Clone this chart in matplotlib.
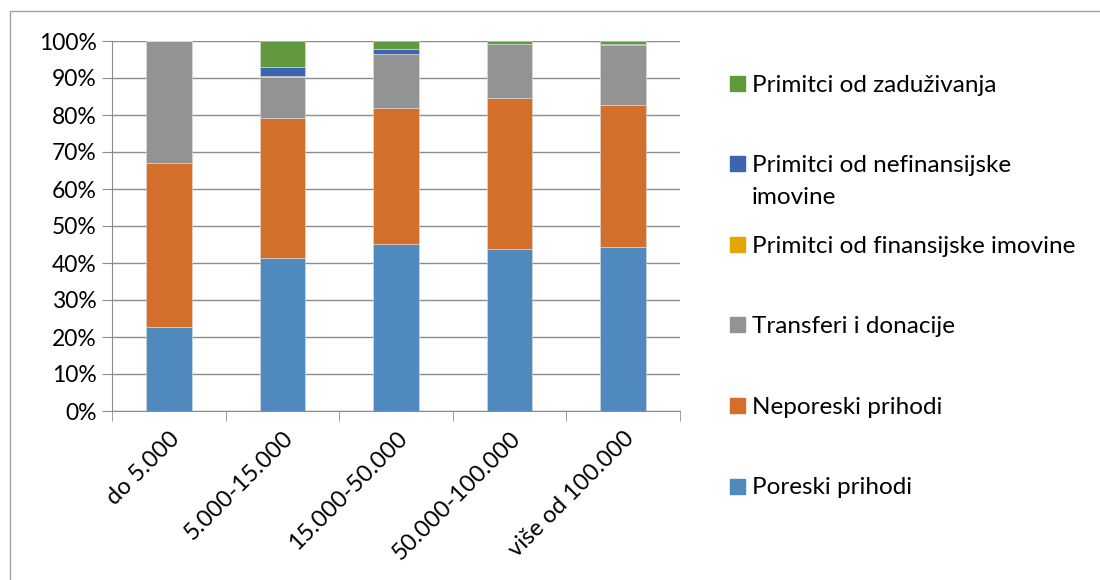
import numpy as np
import matplotlib
matplotlib.use("Agg")
import matplotlib.pyplot as plt
from matplotlib.patches import Rectangle

plt.rcParams['font.family'] = ['Lato', 'DejaVu Sans']

# categories (population size) and shares in %
categories = ['do 5.000', '5.000-15.000', '15.000-50.000', '50.000-100.000', 'više od 100.000']
poreski = [22.7, 41.4, 45.1, 43.8, 44.3]
neporeski = [44.3, 37.8, 36.8, 40.7, 38.4]
transferi = [33.0, 11.0, 14.6, 14.6, 16.1]
fin_imovina = [0.0, 0.4, 0.0, 0.0, 0.0]
nefin_imovina = [0.0, 2.4, 1.4, 0.1, 0.5]
zaduzivanje = [0.0, 7.0, 2.1, 0.8, 0.7]

series_names = ['Poreski prihodi', 'Neporeski prihodi', 'Transferi i donacije',
                'Primitci od finansijske imovine', 'Primitci od nefinansijske\nimovine',
                'Primitci od zaduživanja']
series_vals = [poreski, neporeski, transferi, fin_imovina, nefin_imovina, zaduzivanje]
colors = ['#4F89BD', '#D46F2B', '#939393', '#E3A800', '#3D64AE', '#62993E']

W, H = 1100, 580
fig = plt.figure(figsize=(W/100, H/100), dpi=100)
ax = fig.add_axes([112/W, 1-411/H, (680-112)/W, (411-41)/H])

x = np.arange(len(categories))
bottom = np.zeros(len(categories))
for vals, col in zip(series_vals, colors):
    vals = np.array(vals)
    ax.bar(x, vals, 0.4, bottom=bottom, color=col, edgecolor='#dddddd', linewidth=0.4, zorder=3)
    bottom += vals

ax.set_xlim(-0.5, len(categories)-0.5)
ax.set_ylim(0, 100)
ax.set_yticks(np.arange(0, 101, 10))
ax.set_yticklabels(['%d%%' % v for v in range(0, 101, 10)], fontsize=16.5)
ax.yaxis.grid(True, color='#8c8c8c', linewidth=1, zorder=0)
ax.set_xticks(x)
ax.set_xticklabels(categories, rotation=45, ha='right', rotation_mode='anchor', fontsize=17)
ax.set_xticks(np.arange(-0.5, len(categories)), minor=True)
ax.tick_params(axis='x', which='major', length=0, pad=12)
ax.tick_params(axis='x', which='minor', length=7, color='#8c8c8c')
ax.tick_params(axis='y', length=7, color='#8c8c8c', pad=4)
for s in ['top', 'right']:
    ax.spines[s].set_visible(False)
for s in ['left', 'bottom']:
    ax.spines[s].set_color('#8c8c8c')

# legend drawn by hand, evenly spaced like the original
y0, dy = 83, 80.6
for i, (name, col) in enumerate(zip(series_names[::-1], colors[::-1])):
    yc = y0 + i*dy
    fig.patches.append(Rectangle((730/W, 1-(yc+7.5)/H), 15/W, 15/H, color=col,
                                 transform=fig.transFigure, figure=fig))
    for k, line in enumerate(name.split('\n')):
        fig.text(752/W, 1-(yc+k*32)/H, line, fontsize=17.5, va='center_baseline', ha='left')

# outer frame
fig.patches.append(Rectangle((10/W, -0.1), 1.2, 1.1-11/H, fill=False, edgecolor='#a0a0a0',
                             linewidth=1, transform=fig.transFigure, figure=fig))

fig.savefig('out.png', dpi=100)
